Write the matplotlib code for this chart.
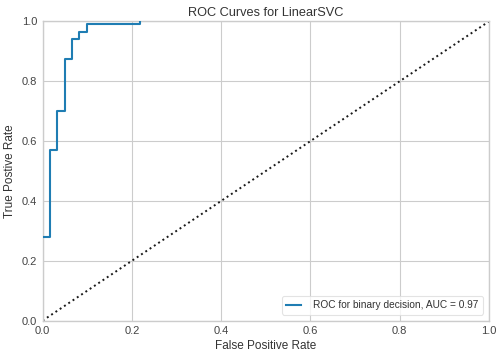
import matplotlib
matplotlib.use("Agg")
import matplotlib.pyplot as plt

fpr = [0.0, 0.017, 0.017, 0.033, 0.033, 0.050, 0.050, 0.066, 0.066, 0.081, 0.081, 0.100, 0.100, 0.217, 0.217]
tpr = [0.280, 0.280, 0.570, 0.570, 0.702, 0.702, 0.874, 0.874, 0.942, 0.942, 0.966, 0.966, 0.992, 0.992, 1.0]
auc_value = 0.97
title = "ROC Curves for LinearSVC"
label = "ROC for binary decision, AUC = {:0.2f}".format(auc_value)

plt.rcParams['font.family'] = ['Liberation Sans', 'DejaVu Sans']

fig = plt.figure(figsize=(5.02, 3.57), dpi=100)
ax = fig.add_axes([0.085, 0.102, 0.889, 0.838])

ax.plot(fpr, tpr, color='#1f7db3', lw=1.5, label=label, zorder=3)
ax.plot([0, 1], [0, 1], linestyle=':', color='#1a1a1a', lw=1.4, zorder=2)

ax.set_xlim(0, 1)
ax.set_ylim(0, 1)
ax.set_xticks([0.0, 0.2, 0.4, 0.6, 0.8, 1.0])
ax.set_yticks([0.0, 0.2, 0.4, 0.6, 0.8, 1.0])
ax.grid(True, color='#cccccc', lw=0.8)
ax.set_axisbelow(True)
for s in ax.spines.values():
    s.set_color('#cccccc')
    s.set_linewidth(1.0)
ax.tick_params(length=0, labelsize=8, labelcolor='#444444', pad=4)

ax.set_title(title, fontsize=9.2, color='#333333', pad=4)
ax.set_xlabel("False Positive Rate", fontsize=8.5, color='#333333', labelpad=3)
ax.set_ylabel("True Postive Rate", fontsize=8.5, color='#333333', labelpad=4)

leg = ax.legend(loc='lower right', fontsize=7.3, frameon=True, fancybox=True,
                handlelength=1.5, handletextpad=1.2, borderpad=0.4,
                borderaxespad=0.6)
leg.get_frame().set_edgecolor('#dddddd')
leg.get_frame().set_linewidth(0.8)
for t in leg.get_texts():
    t.set_color('#333333')

fig.savefig("out.png", dpi=100, facecolor='white')
